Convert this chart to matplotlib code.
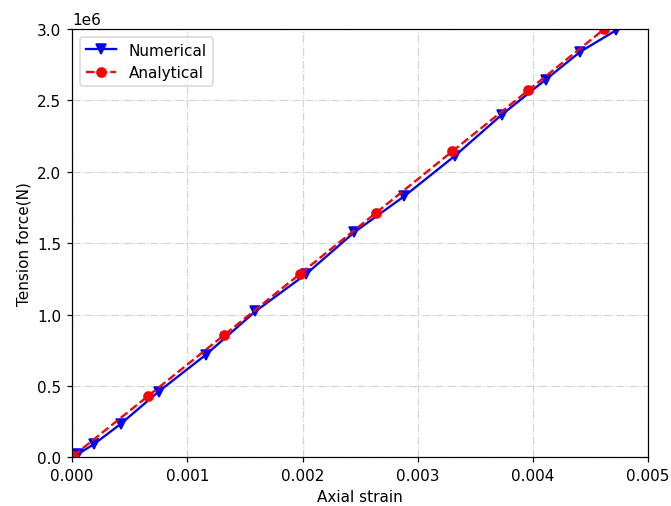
import matplotlib
matplotlib.use("Agg")
import matplotlib.pyplot as plt

# Numerical (FE) result
num_strain = [0.000052, 0.00019, 0.00042, 0.00075, 0.00116, 0.00159, 0.00203,
              0.00245, 0.00288, 0.00332, 0.00373, 0.00411, 0.00441, 0.00472]
num_force = [0.023e6, 0.093e6, 0.233e6, 0.46e6, 0.718e6, 1.022e6, 1.283e6,
             1.577e6, 1.827e6, 2.11e6, 2.40e6, 2.645e6, 2.84e6, 2.99e6]

# Analytical solution
ana_strain = [0.00001, 0.00066, 0.00132, 0.00198, 0.00264, 0.0033, 0.00396, 0.00462]
ana_force = [0.011e6, 0.43e6, 0.857e6, 1.286e6, 1.714e6, 2.143e6, 2.571e6, 3.0e6]

# slightly higher dpi so text/lines come out a bit larger, like the original
fig = plt.figure(figsize=(6.1, 4.609), dpi=110)
ax = fig.add_axes([0.1075, 0.096, 0.8585, 0.845])

ax.plot(num_strain, num_force, 'bv-', label='Numerical', markersize=6)
ax.plot(ana_strain, ana_force, 'ro--', label='Analytical', markersize=6)

ax.set_xlim(0, 0.005)
ax.set_ylim(0, 3.0e6)
ax.set_xlabel('Axial strain')
ax.set_ylabel('Tension force(N)')
ax.grid(True, linestyle='-.', color='lightgray')
ax.legend(loc='upper left')

fig.savefig('out.png', dpi=110)
